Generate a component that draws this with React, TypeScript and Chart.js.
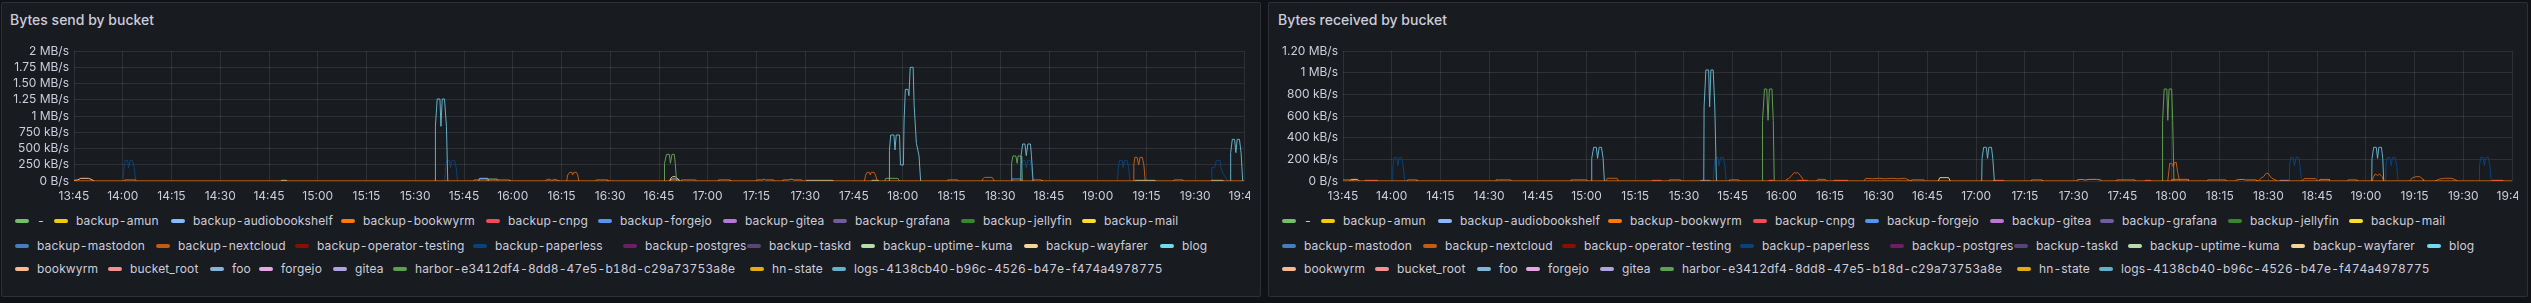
import React, { useEffect, useRef } from "react";
import { Chart, registerables } from "chart.js";

Chart.register(...registerables);

type Pt = [number, number | null];

// x values: minutes after 13:45 ; y values: kB/s
const timeLabels = [
  "13:45", "14:00", "14:15", "14:30", "14:45", "15:00", "15:15", "15:30", "15:45",
  "16:00", "16:15", "16:30", "16:45", "17:00", "17:15", "17:30", "17:45", "18:00",
  "18:15", "18:30", "18:45", "19:00", "19:15", "19:30", "19:45",
];
const sendTickLabels = ["0 B/s", "250 kB/s", "500 kB/s", "750 kB/s", "1 MB/s", "1.25 MB/s", "1.50 MB/s", "1.75 MB/s", "2 MB/s"];
const recvTickLabels = ["0 B/s", "200 kB/s", "400 kB/s", "600 kB/s", "800 kB/s", "1 MB/s", "1.20 MB/s"];

const legendNames = [
  "-", "backup-amun", "backup-audiobookshelf", "backup-bookwyrm", "backup-cnpg", "backup-forgejo",
  "backup-gitea", "backup-grafana", "backup-jellyfin", "backup-mail",
  "backup-mastodon", "backup-nextcloud", "backup-operator-testing", "backup-paperless", "backup-postgres",
  "backup-taskd", "backup-uptime-kuma", "backup-wayfarer", "blog",
  "bookwyrm", "bucket_root", "foo", "forgejo", "gitea", "harbor-e3412df4-8dd8-47e5-b18d-c29a73753a8e",
  "hn-state", "logs-4138cb40-b96c-4526-b47e-f474a4978775",
];
const legendColors = [
  "#73BF69", "#F2CC0C", "#8AB8FF", "#FF780A", "#F2495C", "#5794F2", "#B877D9", "#705DA0", "#37872D", "#FADE2A",
  "#447EBC", "#C15C17", "#890F02", "#0A437C", "#6D1F62", "#584477", "#B7DBAB", "#F4D598", "#70DBED",
  "#F9BA8F", "#F29191", "#82B5D8", "#E5A8E2", "#AEA2E0", "#629E51", "#E5AC0E", "#64B0C8",
];
// legend layout (panel-relative x of each item's marker, per row)
const legendRowX = [
  [13, 52, 169, 339, 484, 596, 721, 831, 959, 1080],
  [13, 154, 293, 471, 621, 745, 859, 1022, 1158],
  [13, 106, 208, 257, 331, 391, 748, 830],
];
const legendRowTop = [208, 233, 256];

// ---------- Bytes send ----------
const sendLogs: Pt[] = [
  [111.1, 0], [111.2, 841], [111.75, 1262], [112.6, 1262], [112.9, 841], [113.3, 1262], [114.0, 1262], [114.6, 841], [115.0, 0], [115.1, null],
  [250.8, 0], [250.9, 472], [251.3, 708], [252.3, 708], [252.6, 477], [253.0, 708], [254.0, 708], [254.3, 246], [255.2, 246], [255.4, 923],
  [255.8, 1410], [256.6, 1410], [256.9, 1313], [257.3, 1749], [258.2, 1749], [258.5, 1164], [259.2, 579], [260.0, 390], [260.5, 0], [260.6, null],
  [291.3, 0], [291.4, 390], [291.9, 569], [292.6, 569], [293.0, 390], [293.5, 569], [294.3, 569], [294.6, 390], [295.1, 0], [295.2, null],
  [355.8, 0], [355.9, 436], [356.4, 641], [357.1, 641], [357.5, 436], [357.9, 641], [358.6, 641], [359.1, 436], [359.6, 0],
];
const sendPaperless: Pt[] = [
  [15.0, 0], [15.4, 205], [15.75, 318], [16.5, 318], [16.8, 205], [17.3, 318], [18.0, 318], [18.5, 205], [19.0, 0], [19.1, null],
  [114.1, 0], [114.3, 205], [114.7, 318], [115.5, 318], [115.8, 205], [116.3, 318], [117.1, 318], [117.6, 205], [118.0, 0], [118.1, null],
  [291.6, 0], [291.7, 205], [292.0, 318], [292.6, 318], [293.0, 205], [293.5, 318], [294.2, 318], [294.6, 205], [295.0, 0], [295.1, null],
  [321.1, 0], [321.3, 205], [321.7, 318], [322.5, 318], [322.8, 205], [323.3, 318], [324.0, 318], [324.5, 205], [324.9, 0], [325.0, null],
  [350.0, 0], [350.1, 205], [351.0, 205], [351.5, 318], [352.0, 318], [352.6, 318], [352.9, 205], [353.5, 118], [354.2, 67], [355.0, 0],
];
const sendHarbor: Pt[] = [
  [127.0, 0], [127.3, 31], [130.2, 31], [130.5, 0], [130.6, null],
  [181.6, 0], [181.7, 272], [182.3, 410], [183.2, 410], [183.5, 272], [184.0, 410], [184.7, 410], [185.0, 272], [185.4, 0], [185.5, null],
  [249.4, 0], [249.8, 41], [253.5, 41], [254.0, 0], [254.1, null],
  [288.4, 0], [288.5, 272], [288.9, 385], [289.8, 385], [290.2, 272], [290.5, 385], [291.4, 385], [291.6, 272], [291.8, 0],
];
const sendNextcloud: Pt[] = [
  [145.0, 0], [145.5, 26], [146.5, 26], [147.0, 10], [148.0, 26], [149.5, 0], [149.6, null],
  [151.6, 0], [151.9, 92], [152.5, 133], [153.2, 133], [153.4, 92], [153.8, 133], [154.6, 133], [155.0, 92], [155.3, 0], [155.4, null],
  [243.2, 0], [243.6, 92], [244.0, 133], [244.7, 133], [245.0, 92], [245.3, 133], [246.2, 133], [246.6, 92], [247.2, 0], [247.3, null],
  [279.3, 0], [279.8, 41], [280.2, 56], [282.5, 56], [283.2, 0], [283.3, null],
  [326.0, 0], [326.1, 246], [326.4, 364], [327.1, 364], [327.6, 246], [328.0, 364], [328.7, 364], [329.2, 246], [329.6, 0],
];
const sendBackupBookwyrm: Pt[] = [
  [0, 0], [15.5, 0], [15.6, 15], [19.0, 15], [19.1, 0],
  [123.0, 0], [123.1, 15], [134.0, 15], [134.1, 0],
  [160.6, 0], [160.7, 15], [164.2, 15], [164.3, 0],
  [186.8, 0], [186.9, 15], [191.3, 15], [191.4, 0],
  [198.2, 0], [198.3, 15], [201.9, 15], [202.0, 0],
  [210.0, 0], [210.1, 15], [212.0, 15], [212.4, 26], [212.8, 15], [215.3, 15], [215.4, 0],
  [218.0, 0], [218.1, 15], [220.0, 15], [220.4, 26], [221.0, 26], [221.4, 15], [223.9, 15], [224.0, 0],
  [268.8, 0], [268.9, 15], [271.9, 15], [272.0, 0],
  [295.0, 0], [295.1, 15], [297.7, 15], [297.8, 0],
  [338.4, 0], [338.5, 15], [341.2, 15], [341.3, 0],
  [360, 0],
];
const sendBookwyrm: Pt[] = [
  [0, 10], [1.0, 15], [2.1, 41], [4.5, 41], [5.5, 20], [6.2, 0], [6.3, null],
  [183.3, 0], [183.6, 41], [184.2, 67], [185.0, 67], [185.6, 41], [186.3, 0],
];
const sendAudiobookshelf: Pt[] = [
  [124.5, 0], [124.8, 41], [127.3, 41], [127.6, 0], [127.7, null],
  [183.5, 0], [183.8, 31], [186.0, 31], [186.3, 0],
];
const sendBlog: Pt[] = [
  [63.7, 0], [63.8, 10], [65.3, 10], [65.4, 0], [65.5, null],
  [225.3, 0], [225.4, 10], [233.4, 10], [233.5, 0], [233.6, null],
  [245.4, 0], [245.5, 10], [247.4, 10], [247.5, 0], [247.6, null],
  [326.4, 0], [326.5, 10], [332.5, 10], [332.6, 0], [332.7, null],
  [350.0, 0], [350.1, 10], [353.4, 10], [353.5, 0],
];
const sendForgejo: Pt[] = [[288.4, 0], [288.6, 31], [291.5, 31], [291.7, 0]];

// ---------- Bytes received ----------
const recvLogs: Pt[] = [
  [76.5, 0], [76.6, 209], [77.2, 311], [78.0, 311], [78.4, 209], [78.9, 311], [79.6, 311], [80.1, 209], [80.5, 0], [80.6, null],
  [111.1, 0], [111.2, 683], [111.75, 1025], [112.6, 1025], [112.9, 683], [113.3, 1025], [114.0, 1025], [114.5, 683], [115.0, 0], [115.1, null],
  [196.7, 0], [196.8, 209], [197.3, 311], [198.1, 311], [198.5, 209], [198.9, 311], [199.7, 311], [200.1, 209], [200.6, 0], [200.7, null],
  [316.8, 0], [316.9, 209], [317.4, 311], [318.2, 311], [318.6, 209], [319.0, 311], [319.8, 311], [320.2, 209], [320.5, 0],
];
const recvPaperless: Pt[] = [
  [15.3, 0], [15.4, 142], [15.75, 218], [16.5, 218], [16.9, 142], [17.35, 218], [18.0, 218], [18.5, 142], [19.0, 0], [19.1, null],
  [114.1, 0], [114.3, 142], [114.7, 218], [115.5, 218], [115.8, 142], [116.3, 218], [117.1, 218], [117.6, 142], [118.0, 0], [118.1, null],
  [291.4, 0], [291.5, 142], [291.9, 218], [292.6, 218], [293.0, 142], [293.5, 218], [294.3, 218], [294.7, 142], [295.2, 0], [295.3, null],
  [321.1, 0], [321.2, 142], [321.6, 218], [322.4, 218], [322.8, 142], [323.2, 218], [324.0, 218], [324.5, 142], [324.9, 0], [325.0, null],
  [349.9, 0], [350.0, 142], [350.4, 218], [351.1, 218], [351.5, 142], [351.9, 218], [352.7, 218], [353.2, 142], [353.6, 0],
];
const recvHarbor: Pt[] = [
  [129.1, 0], [129.2, 560], [129.8, 849], [130.5, 849], [130.9, 560], [131.3, 849], [132.1, 849], [132.5, 560], [132.8, 0], [132.9, null],
  [252.3, 0], [252.4, 560], [252.9, 849], [253.7, 849], [254.0, 560], [254.4, 849], [255.2, 849], [255.5, 560], [255.9, 0],
];
const recvNextcloud: Pt[] = [
  [81.0, 0], [81.4, 25], [84.4, 25], [84.8, 0], [84.9, null],
  [136.3, 9], [137.4, 25], [138.3, 55], [139.0, 80], [139.5, 70], [140.0, 80], [140.9, 49], [141.8, 9], [142.0, 0], [142.1, null],
  [145.8, 0], [146.2, 15], [148.6, 15], [149.0, 0], [149.1, null],
  [160.4, 0], [161.0, 25], [163.0, 20], [165.0, 25], [167.0, 20], [169.0, 25], [171.0, 20], [173.0, 25], [175.0, 0], [175.1, null],
  [254.0, 0], [254.3, 86], [254.6, 163], [255.2, 163], [255.7, 132], [256.1, 172], [256.6, 172], [257.0, 86], [257.6, 0], [257.7, null],
  [282.0, 0], [282.6, 25], [283.5, 40], [284.3, 71], [284.9, 71], [285.5, 45], [286.1, 25], [287.8, 0], [287.9, null],
  [295.4, 0], [296.0, 22], [299.5, 22], [300.1, 0], [300.2, null],
  [316.8, 0], [317.4, 40], [317.9, 65], [318.6, 50], [319.2, 65], [320.0, 40], [320.5, 0], [320.6, null],
  [328.5, 0], [329.3, 30], [330.5, 40], [331.6, 40], [332.6, 15], [332.8, 0], [332.9, null],
  [336.3, 0], [337.7, 18], [339.2, 25], [341.5, 25], [343.3, 0],
];
const recvBackupBookwyrm: Pt[] = [
  [0, 9], [3.0, 9], [3.1, 0],
  [19.8, 0], [19.9, 9], [22.8, 9], [22.9, 0],
  [47.0, 0], [47.1, 9], [51.7, 9], [51.8, 0],
  [70.1, 0], [70.2, 9], [75.1, 9], [75.2, 0],
  [100.4, 0], [100.5, 9], [104.0, 9], [104.1, 0],
  [118.9, 0], [119.0, 9], [121.9, 9], [122.0, 0],
  [175.0, 0], [175.1, 9], [178.9, 9], [179.0, 0],
  [211.9, 0], [212.0, 9], [215.3, 9], [215.4, 0],
  [225.9, 0], [226.0, 9], [227.5, 15], [228.5, 9], [230.0, 15], [232.0, 15], [233.4, 9], [233.5, 0],
  [238.2, 0], [238.3, 9], [243.9, 9], [244.0, 0],
  [266.2, 0], [266.3, 9], [271.9, 9], [272.0, 0],
  [275.0, 0], [275.1, 9], [277.0, 15], [278.0, 9], [281.3, 9], [281.4, 0],
  [309.4, 0], [309.5, 9], [312.3, 9], [312.4, 0],
  [360, 0],
];
const recvBookwyrm: Pt[] = [
  [2.1, 0], [2.5, 15], [4.5, 15], [5.0, 0], [5.1, null],
  [183.3, 0], [183.8, 31], [186.5, 31], [187.0, 0],
];
const recvCnpg: Pt[] = [
  [6.7, 0], [6.8, 6], [10.7, 6], [10.8, 0], [10.9, null],
  [95.2, 0], [95.3, 6], [97.8, 6], [97.9, 0], [98.0, null],
  [131.1, 0], [131.2, 6], [132.4, 6], [132.5, 0], [132.6, null],
  [139.8, 0], [139.9, 6], [143.1, 6], [143.2, 0], [143.3, null],
  [151.1, 0], [151.2, 6], [155.3, 6], [155.4, 0], [155.5, null],
  [200.2, 0], [200.3, 6], [203.3, 6], [203.4, 0], [203.5, null],
  [246.9, 0], [247.0, 6], [248.6, 6], [248.7, 0], [248.8, null],
  [255.1, 0], [255.2, 15], [260.3, 15], [260.4, 0], [260.5, null],
  [300.7, 0], [300.8, 15], [303.7, 15], [303.8, 0], [303.9, null],
  [353.8, 0], [353.9, 6], [357.2, 6], [357.3, 0],
];
const recvForgejo: Pt[] = [
  [110.0, 0], [110.1, 6], [112.9, 6], [113.0, 0], [113.1, null],
  [288.4, 0], [288.5, 6], [291.3, 6], [291.4, 0],
];

// series -> legend index
const sendSeries: [number, Pt[]][] = [
  [2, sendAudiobookshelf], [3, sendBackupBookwyrm], [5, sendForgejo], [11, sendNextcloud], [13, sendPaperless],
  [18, sendBlog], [19, sendBookwyrm], [24, sendHarbor], [26, sendLogs],
];
const recvSeries: [number, Pt[]][] = [
  [3, recvBackupBookwyrm], [4, recvCnpg], [5, recvForgejo], [11, recvNextcloud], [13, recvPaperless],
  [19, recvBookwyrm], [24, recvHarbor], [26, recvLogs],
];

const TEXT = "rgb(204, 204, 220)";
const FONT = "Inter, 'Noto Sans', sans-serif";

type PanelProps = {
  left: number;
  title: string;
  series: [number, Pt[]][];
  yMax: number;
  yStep: number;
  yLabels: string[];
  canvasLeft: number;
  canvasWidth: number;
  titleLeft: number;
};

function Panel(p: PanelProps) {
  const ref = useRef<HTMLCanvasElement | null>(null);
  useEffect(() => {
    if (!ref.current) return;
    const datasets = p.series.map(([idx, pts]) => ({
      label: legendNames[idx],
      data: pts.map(([x, y]) => ({ x, y })),
      borderColor: legendColors[idx],
      backgroundColor: legendColors[idx],
      borderWidth: 1,
      pointRadius: 0,
      pointHoverRadius: 0,
      fill: false,
      tension: 0,
      spanGaps: false,
      order: idx === 3 ? 0 : 100 - idx,
    }));
    const grid = "rgba(240, 250, 255, 0.1)";
    const chart = new Chart(ref.current, {
      type: "line",
      data: { datasets: datasets as any },
      options: {
        animation: false,
        responsive: false,
        maintainAspectRatio: false,
        layout: { padding: { top: 11, right: 6, left: 0, bottom: 0 } },
        plugins: { legend: { display: false }, tooltip: { enabled: false } },
        scales: {
          x: {
            type: "linear",
            min: 0,
            max: 360,
            border: { display: false },
            grid: { color: grid, drawTicks: false, lineWidth: 1 },
            ticks: {
              stepSize: 15,
              autoSkip: false,
              maxRotation: 0,
              minRotation: 0,
              padding: 8,
              color: TEXT,
              font: { family: FONT, size: 12 },
              callback: (v: any) => timeLabels[Math.round(Number(v) / 15)] ?? "",
            },
            afterFit: (s: any) => {
              s.height = 25;
              s.paddingLeft = 0;
              s.paddingRight = 0;
            },
          },
          y: {
            type: "linear",
            min: 0,
            max: p.yMax,
            border: { display: false },
            grid: { color: grid, drawTicks: false, lineWidth: 1 },
            ticks: {
              stepSize: p.yStep,
              autoSkip: false,
              padding: 5,
              color: TEXT,
              font: { family: FONT, size: 12 },
              callback: (v: any) => p.yLabels[Math.round(Number(v) / p.yStep)] ?? "",
            },
            afterFit: (s: any) => {
              s.width = 65;
              s.paddingTop = 0;
              s.paddingBottom = 0;
            },
          },
        },
      } as any,
    });
    return () => chart.destroy();
  }, []);

  let k = 0;
  const items: { idx: number; x: number; top: number }[] = [];
  legendRowX.forEach((row, ri) => {
    row.forEach((x) => {
      items.push({ idx: k++, x, top: legendRowTop[ri] });
    });
  });

  return (
    <div
      style={{
        position: "absolute",
        left: p.left,
        top: 2,
        width: 1260,
        height: 295,
        boxSizing: "border-box",
        background: "#181b1f",
        border: "1px solid rgba(204, 204, 220, 0.12)",
        borderRadius: 2,
        overflow: "hidden",
      }}
    >
      <div
        style={{
          position: "absolute",
          left: p.titleLeft,
          top: 7,
          height: 20,
          lineHeight: "20px",
          fontFamily: FONT,
          fontSize: 14,
          fontWeight: 500,
          color: TEXT,
          whiteSpace: "nowrap",
        }}
      >
        {p.title}
      </div>
      <canvas
        ref={ref}
        width={p.canvasWidth}
        height={166}
        style={{ position: "absolute", left: p.canvasLeft, top: 37, width: p.canvasWidth, height: 166 }}
      />
      {items.map((it) => (
        <div
          key={it.idx}
          style={{
            position: "absolute",
            left: it.x,
            top: it.top,
            height: 20,
            display: "flex",
            alignItems: "center",
            whiteSpace: "nowrap",
          }}
        >
          <span
            style={{
              display: "inline-block",
              width: 14,
              height: 4,
              borderRadius: 9999,
              background: legendColors[it.idx],
              marginRight: 8,
            }}
          />
          <span
            style={{
              fontFamily: FONT,
              fontSize: 12,
              letterSpacing: "0.13px",
              fontVariantNumeric: "tabular-nums",
              color: TEXT,
              lineHeight: "20px",
            }}
          >
            {legendNames[it.idx]}
          </span>
        </div>
      ))}
    </div>
  );
}

export default function App() {
  useEffect(() => {
    document.body.style.margin = "0";
    document.body.style.background = "#111217";
  }, []);
  return (
    <div style={{ position: "absolute", left: 0, top: 0, width: 2531, height: 303, background: "#111217", overflow: "hidden" }}>
      <Panel
        left={1}
        title="Bytes send by bucket"
        series={sendSeries}
        yMax={2000}
        yStep={250}
        yLabels={sendTickLabels}
        canvasLeft={7}
        canvasWidth={1241}
        titleLeft={8}
      />
      <Panel
        left={1268}
        title="Bytes received by bucket"
        series={recvSeries}
        yMax={1200}
        yStep={200}
        yLabels={recvTickLabels}
        canvasLeft={9}
        canvasWidth={1240}
        titleLeft={9}
      />
    </div>
  );
}
